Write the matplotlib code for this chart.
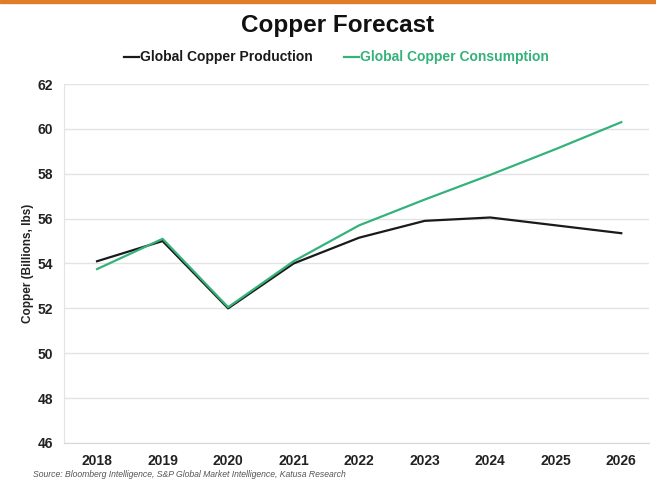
import numpy as np
import matplotlib.pyplot as plt

plt.rcParams['font.family'] = ['Liberation Sans', 'DejaVu Sans']

years = ['2018', '2019', '2020', '2021', '2022', '2023', '2024', '2025', '2026']
production = [54.1, 55.0, 52.0, 54.0, 55.15, 55.9, 56.05, 55.7, 55.35]
consumption = [53.75, 55.1, 52.05, 54.1, 55.7, 56.85, 57.95, 59.1, 60.3]

fig = plt.figure(figsize=(6.56, 4.83), dpi=100)
ax = fig.add_axes([0.098, 0.083, 0.892, 0.743])

x = np.arange(len(years))
ax.plot(x, production, color='#1a1a1a', lw=1.6, label='Global Copper Production')
ax.plot(x, consumption, color='#34b27a', lw=1.6, label='Global Copper Consumption')

ax.set_ylim(46, 62)
ax.set_yticks(np.arange(46, 63, 2))
ax.set_xlim(-0.5, 8.43)
ax.set_xticks(x)
ax.set_xticklabels(years)
ax.grid(axis='y', color='#e3e3e3', lw=1)
ax.set_axisbelow(True)
for s in ['top', 'right']:
    ax.spines[s].set_visible(False)
ax.spines['left'].set_color('#e3e3e3')
ax.spines['bottom'].set_color('#d9d9d9')
ax.tick_params(length=0, labelsize=10, pad=8)
for lab in ax.get_xticklabels() + ax.get_yticklabels():
    lab.set_fontweight('bold')
    lab.set_color('#222222')
ax.set_ylabel('Copper (Billions, lbs)', fontsize=8.5, fontweight='bold', color='#222222', labelpad=3)

fig.text(0.515, 0.948, 'Copper Forecast', ha='center', va='center', fontsize=17.5, fontweight='bold', color='#111111')
leg = fig.legend(loc='center', bbox_to_anchor=(0.513, 0.881), ncol=2, frameon=False,
                 handlelength=1.1, handletextpad=0.1, columnspacing=2.2,
                 prop={'weight': 'bold', 'size': 10}, labelcolor='linecolor')

fig.text(0.05, 0.012, 'Source: Bloomberg Intelligence, S&P Global Market Intelligence, Katusa Research',
         fontsize=6.2, style='italic', color='#555555')

fig.add_artist(plt.Rectangle((0, 0.993), 1, 0.007, transform=fig.transFigure, color='#e07b2a'))

fig.savefig('out.png', dpi=100)
